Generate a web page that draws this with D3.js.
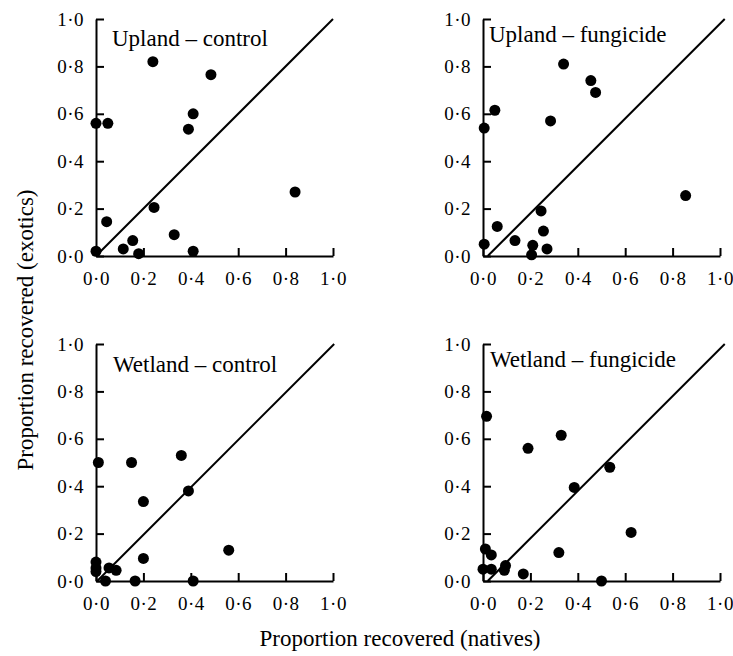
<!DOCTYPE html>
<html>
<style>
body { margin: 0; background: #fff; }
text { font-family: "Liberation Serif", "Times New Roman", serif; fill: #000; }
.axis path, .axis line { stroke: #000; stroke-width: 2px; }
.title { font-size: 23px; }
.label { font-size: 23px; text-anchor: middle; }
.diag { stroke: #000; stroke-width: 2px; }
</style>
<svg width="733" height="656"></svg>
<script src="https://cdn.jsdelivr.net/npm/d3@7/dist/d3.min.js"></script>
<script>
// natives (x) vs exotics (y), proportion recovered
var titles = ["Upland \u2013 control", "Upland \u2013 fungicide", "Wetland \u2013 control", "Wetland \u2013 fungicide"];

var uplandControlX = [0.24, 0.485, 0.41, 0.39, 0.0, 0.05, 0.84, 0.245, 0.045, 0.0, 0.115, 0.155, 0.18, 0.33, 0.41];
var uplandControlY = [0.82, 0.765, 0.60, 0.535, 0.56, 0.56, 0.27, 0.205, 0.145, 0.02, 0.03, 0.065, 0.01, 0.09, 0.02];

var uplandFungX = [0.34, 0.455, 0.475, 0.05, 0.285, 0.005, 0.855, 0.245, 0.06, 0.255, 0.135, 0.005, 0.21, 0.27, 0.205];
var uplandFungY = [0.81, 0.74, 0.69, 0.615, 0.57, 0.54, 0.255, 0.19, 0.125, 0.105, 0.065, 0.05, 0.045, 0.03, 0.005];

var wetlandControlX = [0.36, 0.01, 0.15, 0.39, 0.2, 0.56, 0.2, 0.0, 0.0, 0.0, 0.055, 0.085, 0.04, 0.165, 0.41];
var wetlandControlY = [0.53, 0.50, 0.50, 0.38, 0.335, 0.13, 0.095, 0.08, 0.055, 0.04, 0.055, 0.045, 0.0, 0.0, 0.0];

var wetlandFungX = [0.015, 0.33, 0.19, 0.535, 0.385, 0.625, 0.01, 0.035, 0.32, 0.0, 0.035, 0.095, 0.09, 0.17, 0.5];
var wetlandFungY = [0.695, 0.615, 0.56, 0.48, 0.395, 0.205, 0.135, 0.11, 0.12, 0.05, 0.05, 0.065, 0.045, 0.03, 0.0];

var seriesX = [uplandControlX, uplandFungX, wetlandControlX, wetlandFungX];
var seriesY = [uplandControlY, uplandFungY, wetlandControlY, wetlandFungY];

// 1:1 line, drawn slightly offset in the right-hand panels
var diagShift = [0, 0.02, 0.005, 0.02];
var ticks = [0, 0.2, 0.4, 0.6, 0.8, 1.0];

var svg = d3.select("svg");
var size = 237;
var origins = [[96, 19], [483, 19], [96, 344], [483, 344]];
var titlePos = [[16, 27], [6, 23], [17, 28], [7, 23]];

var fmt = function(d) { return d3.format(".1f")(d).replace(".", "\u00b7"); };

function styleTicks(a) {
  a.attr("font-family", null).attr("font-size", null);
  a.selectAll("text")
      .style("font-family", "'Liberation Serif', serif")
      .style("font-size", "19px")
      .style("letter-spacing", "0.5px");
}

for (var p = 0; p < 4; p++) {
  var g = svg.append("g")
      .attr("transform", "translate(" + origins[p][0] + "," + origins[p][1] + ")");

  var x = d3.scaleLinear().domain([0, 1]).range([0, size]);
  var y = d3.scaleLinear().domain([0, 1]).range([size, 0]);

  g.append("g")
      .attr("class", "axis")
      .attr("transform", "translate(0," + size + ")")
      .call(d3.axisBottom(x).tickValues(ticks).tickFormat(fmt).tickSizeInner(-8).tickSizeOuter(0).tickPadding(16))
      .call(styleTicks);

  g.append("g")
      .attr("class", "axis")
      .call(d3.axisLeft(y).tickValues(ticks).tickFormat(fmt).tickSizeInner(-8).tickSizeOuter(0).tickPadding(12))
      .call(styleTicks);

  var s = diagShift[p];
  g.append("line")
      .attr("class", "diag")
      .attr("x1", x(s)).attr("y1", y(0))
      .attr("x2", x(1 + s)).attr("y2", y(1));

  g.append("text")
      .attr("class", "title")
      .attr("x", titlePos[p][0])
      .attr("y", titlePos[p][1])
      .text(titles[p]);

  var pts = seriesX[p].map(function(v, i) { return { x: v, y: seriesY[p][i] }; });
  g.selectAll("circle")
    .data(pts)
    .enter().append("circle")
      .attr("cx", function(d) { return x(d.x); })
      .attr("cy", function(d) { return y(d.y); })
      .attr("r", 5.5)
      .attr("fill", "#000");
}

svg.append("text")
    .attr("class", "label")
    .attr("x", 400)
    .attr("y", 646)
    .text("Proportion recovered (natives)");

svg.append("text")
    .attr("class", "label")
    .attr("transform", "translate(33,330) rotate(-90)")
    .text("Proportion recovered (exotics)");
</script>
</html>
